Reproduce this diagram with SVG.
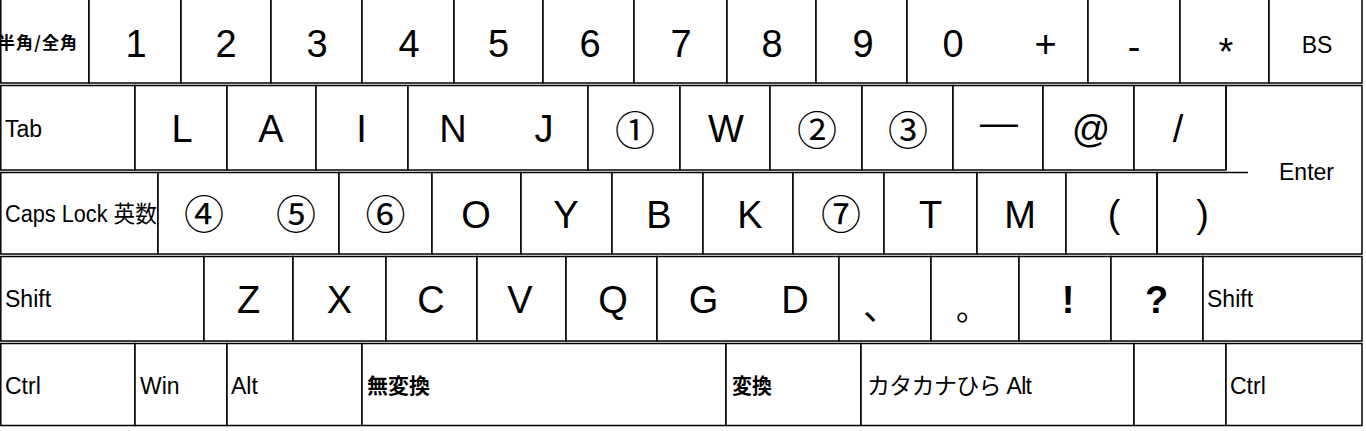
<svg xmlns="http://www.w3.org/2000/svg" width="1366" height="431" viewBox="0 0 1366 431">
<style>
.k{fill:#fff;stroke:#000;stroke-width:1.5}
.o{fill:none;stroke:#000;stroke-width:1.5}
.b{font-family:"Liberation Sans","Noto Sans CJK JP",sans-serif;font-size:38px;text-anchor:middle;fill:#000}
.s{font-family:"Liberation Sans","Noto Sans CJK JP",sans-serif;font-size:23px;fill:#000}
.j{font-family:"Noto Sans CJK JP","Liberation Sans",sans-serif;font-size:21px;font-weight:700;fill:#000}
.c{font-family:"Noto Sans CJK JP",sans-serif;font-size:40px;text-anchor:middle;fill:#000}
.p{font-family:"Noto Sans CJK JP",sans-serif;fill:#000}
</style>
<rect width="1366" height="431" fill="#fff"/>
<!-- Row 1 -->
<g id="k-hankaku"><rect class="k" x="0.8" y="-2" width="88.2" height="85"/><text x="-2" y="49" font-family="Noto Sans CJK JP,sans-serif" font-size="17" font-weight="700" textLength="79" lengthAdjust="spacing">半角/全角</text></g>
<g id="k-1"><rect class="k" x="89" y="-2" width="92" height="85"/><text class="b" x="136" y="57">1</text></g>
<g id="k-2"><rect class="k" x="181" y="-2" width="90" height="85"/><text class="b" x="226" y="57">2</text></g>
<g id="k-3"><rect class="k" x="271" y="-2" width="91" height="85"/><text class="b" x="317" y="57">3</text></g>
<g id="k-4"><rect class="k" x="362" y="-2" width="92" height="85"/><text class="b" x="409" y="57">4</text></g>
<g id="k-5"><rect class="k" x="454" y="-2" width="89" height="85"/><text class="b" x="498.5" y="57">5</text></g>
<g id="k-6"><rect class="k" x="543" y="-2" width="91" height="85"/><text class="b" x="590" y="57">6</text></g>
<g id="k-7"><rect class="k" x="634" y="-2" width="93" height="85"/><text class="b" x="681" y="57">7</text></g>
<g id="k-8"><rect class="k" x="727" y="-2" width="89" height="85"/><text class="b" x="772" y="57">8</text></g>
<g id="k-9"><rect class="k" x="816" y="-2" width="91" height="85"/><text class="b" x="863" y="57">9</text></g>
<g id="k-0plus"><rect class="k" x="907" y="-2" width="181" height="85"/><text class="b" x="953" y="57">0</text><text class="b" x="1045.5" y="57">+</text></g>
<g id="k-minus"><rect class="k" x="1088" y="-2" width="92" height="85"/><text class="b" x="1134" y="60">-</text></g>
<g id="k-star"><rect class="k" x="1180" y="-2" width="89" height="85"/><text class="b" x="1226" y="65" font-size="56">*</text></g>
<g id="k-bs"><rect class="k" x="1269" y="-2" width="93" height="85"/><text class="s" x="1317" y="53" text-anchor="middle">BS</text></g>
<!-- Row 2 -->
<g id="k-tab"><rect class="k" x="0.8" y="85.5" width="134.2" height="84.5"/><text class="s" x="5" y="137">Tab</text></g>
<g id="k-L"><rect class="k" x="135" y="85.5" width="92" height="84.5"/><text class="b" x="182" y="142">L</text></g>
<g id="k-A"><rect class="k" x="227" y="85.5" width="89" height="84.5"/><text class="b" x="271" y="142">A</text></g>
<g id="k-I"><rect class="k" x="316" y="85.5" width="92" height="84.5"/><text class="b" x="361.5" y="142">I</text></g>
<g id="k-NJ"><rect class="k" x="408" y="85.5" width="180" height="84.5"/><text class="b" x="453" y="142">N</text><text class="b" x="544" y="142">J</text></g>
<g id="k-c1"><rect class="k" x="588" y="85.5" width="92" height="84.5"/><text class="c" x="635" y="145">①</text></g>
<g id="k-W"><rect class="k" x="680" y="85.5" width="90" height="84.5"/><text class="b" x="726" y="142">W</text></g>
<g id="k-c2"><rect class="k" x="770" y="85.5" width="92" height="84.5"/><text class="c" x="817" y="145">②</text></g>
<g id="k-c3"><rect class="k" x="862" y="85.5" width="91" height="84.5"/><text class="c" x="908" y="145">③</text></g>
<g id="k-dash"><rect class="k" x="953" y="85.5" width="90" height="84.5"/><text class="b" x="999" y="136" font-size="34">—</text></g>
<g id="k-at"><rect class="k" x="1043" y="85.5" width="91" height="84.5"/><text class="b" x="1091" y="142">@</text></g>
<g id="k-slash"><rect class="k" x="1134" y="85.5" width="92" height="84.5"/><text class="b" x="1178" y="142">/</text></g>
<g id="k-enter"><path class="o" d="M1226,170 V85.5 H1362 V254 H1248"/><text class="s" x="1306.5" y="180" text-anchor="middle">Enter</text></g>
<!-- Row 3 -->
<g id="k-caps"><rect class="k" x="0.8" y="172.5" width="157.2" height="81.5"/><text class="s" x="5" y="222" textLength="152" lengthAdjust="spacingAndGlyphs">Caps Lock 英数</text></g>
<g id="k-c45"><rect class="k" x="158" y="172.5" width="181" height="81.5"/><text class="c" x="204" y="229">④</text><text class="c" x="296" y="229">⑤</text></g>
<g id="k-c6"><rect class="k" x="339" y="172.5" width="93" height="81.5"/><text class="c" x="385.5" y="229">⑥</text></g>
<g id="k-O"><rect class="k" x="432" y="172.5" width="89" height="81.5"/><text class="b" x="476" y="228">O</text></g>
<g id="k-Y"><rect class="k" x="521" y="172.5" width="91" height="81.5"/><text class="b" x="566" y="228">Y</text></g>
<g id="k-B"><rect class="k" x="612" y="172.5" width="91" height="81.5"/><text class="b" x="659" y="228">B</text></g>
<g id="k-K"><rect class="k" x="703" y="172.5" width="90" height="81.5"/><text class="b" x="750" y="228">K</text></g>
<g id="k-c7"><rect class="k" x="793" y="172.5" width="91" height="81.5"/><text class="c" x="841" y="229">⑦</text></g>
<g id="k-T"><rect class="k" x="884" y="172.5" width="93" height="81.5"/><text class="b" x="930.5" y="228">T</text></g>
<g id="k-M"><rect class="k" x="977" y="172.5" width="89" height="81.5"/><text class="b" x="1020" y="228">M</text></g>
<g id="k-lpar"><rect class="k" x="1066" y="172.5" width="91" height="81.5"/><text class="b" x="1114" y="227" font-size="29">(</text></g>
<g id="k-rpar"><path class="o" d="M1248,172.5 H1157 V254 H1248"/><text class="b" x="1202.5" y="227" font-size="29">)</text></g>
<!-- Row 4 -->
<g id="k-shiftL"><rect class="k" x="0.8" y="256.5" width="203.2" height="84.5"/><text class="s" x="5" y="307">Shift</text></g>
<g id="k-Z"><rect class="k" x="204" y="256.5" width="89" height="84.5"/><text class="b" x="248.5" y="313">Z</text></g>
<g id="k-X"><rect class="k" x="293" y="256.5" width="93" height="84.5"/><text class="b" x="339.5" y="313">X</text></g>
<g id="k-C"><rect class="k" x="386" y="256.5" width="91" height="84.5"/><text class="b" x="431" y="313">C</text></g>
<g id="k-V"><rect class="k" x="477" y="256.5" width="89" height="84.5"/><text class="b" x="520" y="313">V</text></g>
<g id="k-Q"><rect class="k" x="566" y="256.5" width="91" height="84.5"/><text class="b" x="613" y="313">Q</text></g>
<g id="k-GD"><rect class="k" x="657" y="256.5" width="182" height="84.5"/><text class="b" x="703.5" y="313">G</text><text class="b" x="795" y="313">D</text></g>
<g id="k-comma"><rect class="k" x="839" y="256.5" width="92" height="84.5"/><text class="p" x="863" y="320" font-size="36">、</text></g>
<g id="k-period"><rect class="k" x="931" y="256.5" width="88" height="84.5"/><text class="p" x="956" y="320" font-size="32">。</text></g>
<g id="k-excl"><rect class="k" x="1019" y="256.5" width="92" height="84.5"/><text class="b" x="1068" y="313" font-weight="700">!</text></g>
<g id="k-q"><rect class="k" x="1111" y="256.5" width="92" height="84.5"/><text class="b" x="1156.5" y="313" font-weight="700">?</text></g>
<g id="k-shiftR"><rect class="k" x="1203" y="256.5" width="159" height="84.5"/><text class="s" x="1207" y="307">Shift</text></g>
<!-- Row 5 -->
<g id="k-ctrlL"><rect class="k" x="0.8" y="343.5" width="134.2" height="82"/><text class="s" x="5" y="394">Ctrl</text></g>
<g id="k-win"><rect class="k" x="135" y="343.5" width="92" height="82"/><text class="s" x="140" y="394">Win</text></g>
<g id="k-alt"><rect class="k" x="227" y="343.5" width="135" height="82"/><text class="s" x="231" y="394">Alt</text></g>
<g id="k-muhenkan"><rect class="k" x="362" y="343.5" width="364" height="82"/><text class="j" x="367" y="393" textLength="63" lengthAdjust="spacingAndGlyphs">無変換</text></g>
<g id="k-henkan"><rect class="k" x="726" y="343.5" width="135" height="82"/><text class="j" x="732" y="393" textLength="40" lengthAdjust="spacingAndGlyphs">変換</text></g>
<g id="k-kana"><rect class="k" x="861" y="343.5" width="273" height="82"/><text class="s" x="867" y="394" textLength="165" lengthAdjust="spacing">カタカナひら Alt</text></g>
<g id="k-blank"><rect class="k" x="1134" y="343.5" width="92" height="82"/></g>
<g id="k-ctrlR"><rect class="k" x="1226" y="343.5" width="136" height="82"/><text class="s" x="1230" y="394">Ctrl</text></g>
<g id="connectors"/>
</svg>
